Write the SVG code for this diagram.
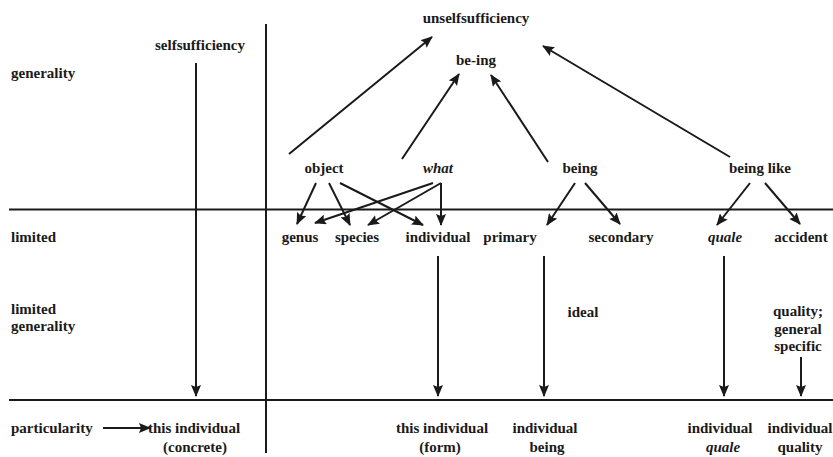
<svg xmlns="http://www.w3.org/2000/svg" width="833" height="457" viewBox="0 0 833 457">
<style>
text{font-family:"Liberation Serif","Times New Roman",serif;font-size:15px;font-weight:bold;fill:#1a1a1a}
.c{text-anchor:middle}
.i{font-style:italic}
.rule{stroke:#1a1a1a;stroke-width:2;fill:none}
.arr{stroke:#1a1a1a;stroke-width:2;fill:none;marker-end:url(#ah)}
</style>
<defs>
<marker id="ah" markerUnits="userSpaceOnUse" markerWidth="12" markerHeight="10" viewBox="0 0 12 10" refX="11" refY="5" orient="auto">
<path d="M0,0 L12,5 L0,10 L2,5 Z" fill="#1a1a1a"/>
</marker>
</defs>
<rect width="833" height="457" fill="#fff"/>
<g id="grid">
<line class="rule" x1="9" y1="209.5" x2="833" y2="209.5"/>
<line class="rule" x1="9" y1="400" x2="833" y2="400"/>
<line class="rule" x1="266" y1="24" x2="266" y2="453"/>
</g>
<g id="row-labels">
<text x="11" y="78">generality</text>
<text x="11" y="242">limited</text>
<text x="11" y="314">limited</text>
<text x="11" y="331">generality</text>
<text x="11" y="433">particularity</text>
</g>
<g id="connectors">
<line class="arr" x1="196" y1="63" x2="196" y2="396"/>
<line class="arr" x1="103" y1="428" x2="150" y2="428"/>
<line class="arr" x1="289" y1="154" x2="432" y2="37"/>
<line class="arr" x1="402" y1="159" x2="459" y2="74"/>
<line class="arr" x1="548" y1="162" x2="491" y2="75"/>
<line class="arr" x1="730" y1="157" x2="543" y2="46"/>
<line class="arr" x1="316" y1="183" x2="297" y2="224"/>
<line class="arr" x1="329" y1="183" x2="350" y2="225"/>
<line class="arr" x1="340" y1="183" x2="423" y2="225"/>
<line class="arr" x1="433" y1="183" x2="315" y2="223"/>
<line class="arr" x1="441" y1="183" x2="368" y2="225"/>
<line class="arr" x1="441" y1="183" x2="441" y2="225"/>
<line class="arr" x1="575" y1="183" x2="547" y2="225"/>
<line class="arr" x1="585" y1="183" x2="620" y2="224"/>
<line class="arr" x1="750" y1="183" x2="717" y2="225"/>
<line class="arr" x1="765" y1="183" x2="800" y2="224"/>
<line class="arr" x1="438" y1="256" x2="438" y2="396"/>
<line class="arr" x1="544" y1="256" x2="544" y2="396"/>
<line class="arr" x1="724" y1="256" x2="724" y2="396"/>
<line class="arr" x1="801" y1="357" x2="801" y2="396"/>
</g>
<g id="unselfsufficiency"><text class="c" x="476" y="23">unselfsufficiency</text></g>
<g id="selfsufficiency"><text class="c" x="200" y="50">selfsufficiency</text></g>
<g id="be-ing"><text class="c" x="476" y="65">be-ing</text></g>
<g id="object"><text class="c" x="324" y="173">object</text></g>
<g id="what"><text class="c i" x="438" y="173">what</text></g>
<g id="being"><text class="c" x="580" y="173">being</text></g>
<g id="being-like"><text class="c" x="760" y="173">being like</text></g>
<g id="genus"><text class="c" x="300" y="242">genus</text></g>
<g id="species"><text class="c" x="357" y="242">species</text></g>
<g id="individual"><text class="c" x="438" y="242">individual</text></g>
<g id="primary"><text class="c" x="510" y="242">primary</text></g>
<g id="secondary"><text class="c" x="621" y="242">secondary</text></g>
<g id="quale"><text class="c i" x="725" y="242">quale</text></g>
<g id="accident"><text class="c" x="801" y="242">accident</text></g>
<g id="ideal"><text class="c" x="583" y="317">ideal</text></g>
<g id="quality-general-specific">
<text class="c" x="798" y="316">quality;</text>
<text class="c" x="798" y="334">general</text>
<text class="c" x="798" y="351">specific</text>
</g>
<g id="this-individual-concrete">
<text class="c" x="194" y="433">this individual</text>
<text class="c" x="195" y="452">(concrete)</text>
</g>
<g id="this-individual-form">
<text class="c" x="442" y="433">this individual</text>
<text class="c" x="440" y="452">(form)</text>
</g>
<g id="individual-being">
<text class="c" x="545" y="433">individual</text>
<text class="c" x="547" y="452">being</text>
</g>
<g id="individual-quale">
<text class="c" x="720" y="433">individual</text>
<text class="c i" x="723" y="452">quale</text>
</g>
<g id="individual-quality">
<text class="c" x="800" y="433">individual</text>
<text class="c" x="800" y="452">quality</text>
</g>
</svg>
